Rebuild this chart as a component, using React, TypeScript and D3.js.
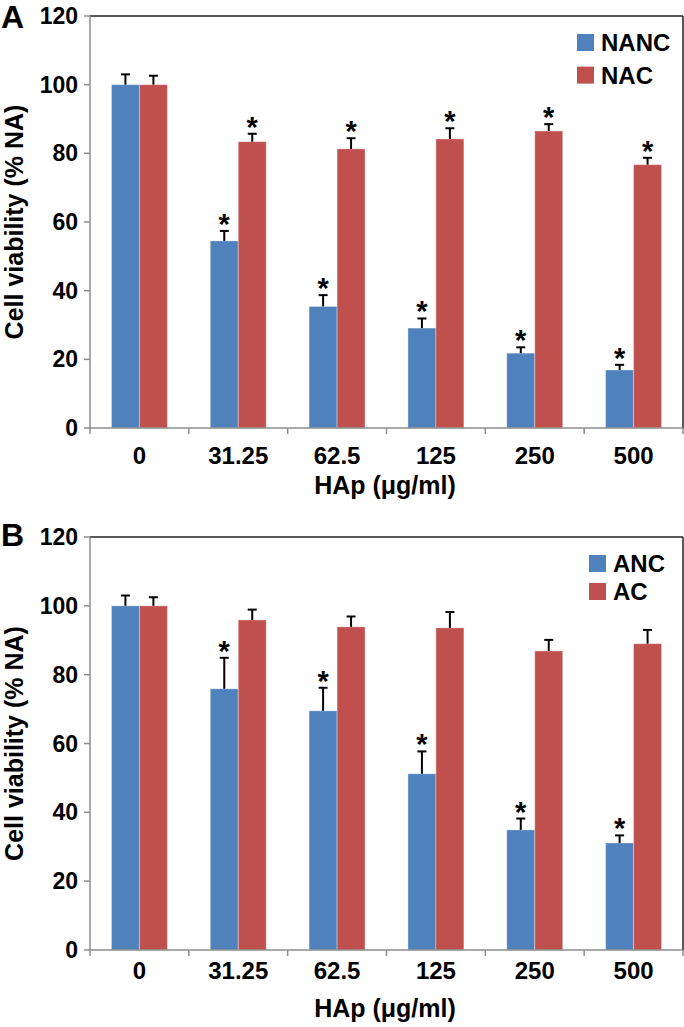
import React from "react";
import * as d3 from "d3";

const categories = ["0", "31.25", "62.5", "125", "250", "500"];
const yTicks = [0, 20, 40, 60, 80, 100, 120];

const nancValues = [100, 54.5, 35.4, 29.1, 21.8, 16.9];
const nancErrors = [3, 2.9, 3.3, 2.8, 1.7, 1.5];
const nacValues = [100, 83.4, 81.3, 84.2, 86.5, 76.7];
const nacErrors = [2.6, 2.3, 3.1, 3.1, 2.0, 2.0];
const nancStars = [false, true, true, true, true, true];
const nacStars = [false, true, true, true, true, true];

const ancValues = [100, 75.9, 69.5, 51.2, 34.9, 31.1];
const ancErrors = [3, 9, 6.7, 6.5, 3.3, 2.2];
const acValues = [100, 95.9, 93.9, 93.6, 86.9, 89.0];
const acErrors = [2.5, 3, 3, 4.6, 3.2, 4];
const ancStars = [false, true, true, true, true, true];
const acStars = [false, false, false, false, false, false];

const BLUE = "#4F81BD";
const RED = "#C0504D";
const FONT = "'Liberation Sans', Arial, sans-serif";

type Series = { name: string; values: number[]; errors: number[]; stars: boolean[]; color: string };

function Panel({ top, bottom, label, labelY, series, legendX, legendY, legendGap, tickOff, titleOff }: {
  top: number; bottom: number; label: string; labelY: number; series: Series[]; legendX: number; legendY: number;
  legendGap: number; tickOff: number; titleOff: number;
}) {
  const left = 90, right = 683;
  const x = d3.scaleBand<string>().domain(categories).range([left, right]);
  const y = d3.scaleLinear().domain([0, 120]).range([bottom, top]);
  const bw = x.bandwidth();
  const barW = bw * 0.283;
  const gray = "#8c8c8c";
  const midY = (top + bottom) / 2;
  return (
    <g>
      <text x={1} y={labelY} fontSize={32} fontWeight="bold" fontFamily={FONT}>{label}</text>
      {series.map((s, si) =>
        categories.map((c, i) => {
          const cx = (x(c) as number) + bw / 2;
          const x0 = cx - barW + si * barW;
          const yt = y(s.values[i]);
          const ye = y(s.values[i] + s.errors[i]);
          const bxc = x0 + barW / 2;
          return (
            <g key={s.name + c}>
              <rect x={x0} y={yt} width={barW} height={bottom - yt} fill={s.color} stroke="#ffffff" strokeOpacity={0.35} strokeWidth={1} />
              <line x1={bxc} x2={bxc} y1={yt} y2={ye} stroke="#000" strokeWidth={2} />
              <line x1={bxc - 4.5} x2={bxc + 4.5} y1={ye} y2={ye} stroke="#000" strokeWidth={2} />
              {s.stars[i] && (
                <text x={bxc} y={ye + 3} textAnchor="middle" fontSize={29} fontWeight="bold" fontFamily={FONT}>*</text>
              )}
            </g>
          );
        })
      )}
      <line x1={left} x2={right} y1={top} y2={top} stroke="#222" strokeWidth={1.5} />
      <line x1={right} x2={right} y1={top} y2={bottom} stroke="#222" strokeWidth={1.5} />
      <line x1={left} x2={left} y1={top} y2={bottom} stroke={gray} strokeWidth={1.5} />
      <line x1={left} x2={right} y1={bottom} y2={bottom} stroke={gray} strokeWidth={1.5} />
      {yTicks.map((t) => (
        <g key={t}>
          <line x1={left - 6} x2={left} y1={y(t)} y2={y(t)} stroke={gray} strokeWidth={1.5} />
          <text x={78} y={y(t) + 8} textAnchor="end" fontSize={23} fontWeight="bold" fontFamily={FONT}>{t}</text>
        </g>
      ))}
      {categories.map((c) => (
        <line key={"t" + c} x1={x(c) as number} x2={x(c) as number} y1={bottom} y2={bottom + 6} stroke={gray} strokeWidth={1.5} />
      ))}
      <line x1={right} x2={right} y1={bottom} y2={bottom + 6} stroke={gray} strokeWidth={1.5} />
      {categories.map((c) => (
        <text key={"l" + c} x={(x(c) as number) + bw / 2} y={bottom + tickOff} textAnchor="middle" fontSize={24} fontWeight="bold" fontFamily={FONT}>{c}</text>
      ))}
      <text x={385} y={bottom + titleOff} textAnchor="middle" fontSize={25} fontWeight="bold" fontFamily={FONT}>HAp (μg/ml)</text>
      <text transform={`translate(23,${midY}) rotate(-90)`} textAnchor="middle" fontSize={25} fontWeight="bold" fontFamily={FONT}>Cell viability (% NA)</text>
      {series.map((s, si) => (
        <g key={"lg" + s.name}>
          <rect x={legendX} y={legendY + si * legendGap} width={17} height={17} fill={s.color} />
          <text x={legendX + 24} y={legendY + si * legendGap + 17} fontSize={24} fontWeight="bold" fontFamily={FONT}>{s.name}</text>
        </g>
      ))}
    </g>
  );
}

export default function App() {
  const seriesA: Series[] = [
    { name: "NANC", values: nancValues, errors: nancErrors, stars: nancStars, color: BLUE },
    { name: "NAC", values: nacValues, errors: nacErrors, stars: nacStars, color: RED },
  ];
  const seriesB: Series[] = [
    { name: "ANC", values: ancValues, errors: ancErrors, stars: ancStars, color: BLUE },
    { name: "AC", values: acValues, errors: acErrors, stars: acStars, color: RED },
  ];
  return (
    <svg width={684} height={1027} style={{ position: "absolute", left: 0, top: 0, background: "#fff" }}>
      <rect width={684} height={1027} fill="#fff" />
      <Panel top={16} bottom={428} label="A" labelY={28} series={seriesA} legendX={577} legendY={34} legendGap={32.6} tickOff={36} titleOff={66} />
      <Panel top={537} bottom={950} label="B" labelY={546} series={seriesB} legendX={589} legendY={555} legendGap={28} tickOff={29} titleOff={67} />
    </svg>
  );
}
